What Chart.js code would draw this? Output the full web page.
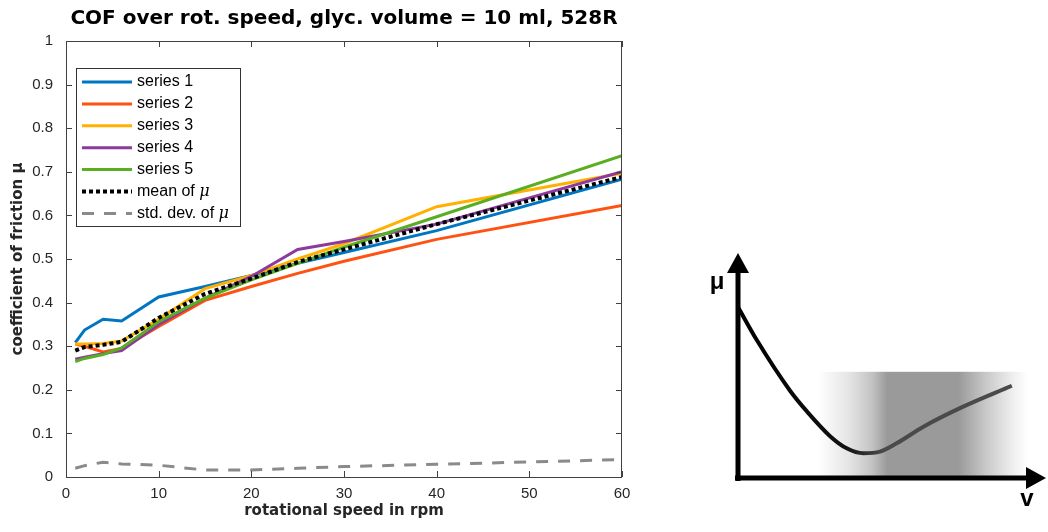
<!DOCTYPE html>
<html>
<head>
<meta charset="utf-8">
<script src="https://cdn.jsdelivr.net/npm/chart.js@4.4.0/dist/chart.umd.min.js"></script>
<style>
  html, body { margin: 0; padding: 0; background: #fff; }
  #left { position: absolute; left: 0; top: 0; width: 640px; height: 532px; }
  #right { position: absolute; left: 680px; top: 0; width: 368px; height: 532px; }
</style>
</head>
<body>
<div id="left"><canvas id="cof"></canvas></div>
<div id="right"><canvas id="stribeck"></canvas></div>
<script>
const speeds = [1, 2, 4, 6, 10, 15, 20, 25, 30, 40, 60];
const series1 = [0.308, 0.337, 0.362, 0.358, 0.413, 0.437, 0.462, 0.490, 0.515, 0.565, 0.683];
const series2 = [0.305, 0.300, 0.287, 0.295, 0.345, 0.405, 0.437, 0.467, 0.495, 0.545, 0.623];
const series3 = [0.305, 0.305, 0.306, 0.312, 0.362, 0.432, 0.462, 0.500, 0.535, 0.620, 0.697];
const series4 = [0.270, 0.275, 0.283, 0.290, 0.350, 0.410, 0.460, 0.522, 0.540, 0.580, 0.700];
const series5 = [0.265, 0.272, 0.281, 0.296, 0.356, 0.410, 0.452, 0.490, 0.527, 0.597, 0.737];
const meanMu = [0.290, 0.298, 0.303, 0.310, 0.365, 0.420, 0.455, 0.493, 0.522, 0.580, 0.688];
const stdMu = [0.020, 0.026, 0.034, 0.030, 0.027, 0.016, 0.016, 0.020, 0.024, 0.029, 0.040];

const seriesLabels = ['series 1', 'series 2', 'series 3', 'series 4', 'series 5', 'mean of μ', 'std. dev. of μ'];
const xTicks = [0, 10, 20, 30, 40, 50, 60];
const yTicks = [0, 0.1, 0.2, 0.3, 0.4, 0.5, 0.6, 0.7, 0.8, 0.9, 1];

// schematic Stribeck curve (arbitrary units)
const curveV = [0, 0.61, 1.69, 2.23, 2.99, 3.53, 4.07, 4.61, 5.15, 6.02, 7.31, 8.89];
const curveMu = [7.6, 6.13, 3.88, 2.97, 1.86, 1.32, 1.10, 1.17, 1.54, 2.28, 3.17, 4.10];

const FONT = "'Liberation Sans', Arial, Helvetica, sans-serif";
const BOLD_FONT = "'DejaVu Sans', 'Liberation Sans', Arial, sans-serif";
const AXIS_COLOR = '#404040';

function toPoints(ys) {
  return speeds.map((s, i) => ({ x: s, y: ys[i] }));
}

// box round the axes, ticks pointing inward (matlab style)
const boxPlugin = {
  id: 'box',
  afterDraw(chart) {
    const { ctx, chartArea: ca, scales } = chart;
    ctx.save();
    ctx.strokeStyle = AXIS_COLOR;
    ctx.lineWidth = 1;
    ctx.strokeRect(ca.left + 0.5, ca.top + 0.5, ca.right - ca.left - 1, ca.bottom - ca.top);
    ctx.beginPath();
    xTicks.forEach(t => {
      let x = Math.round(scales.x.getPixelForValue(t)) + 0.5;
      ctx.moveTo(x, ca.bottom); ctx.lineTo(x, ca.bottom - 6);
      ctx.moveTo(x, ca.top); ctx.lineTo(x, ca.top + 6);
    });
    yTicks.forEach(t => {
      let y = Math.round(scales.y.getPixelForValue(t)) + 0.5;
      ctx.moveTo(ca.left, y); ctx.lineTo(ca.left + 6, y);
      ctx.moveTo(ca.right, y); ctx.lineTo(ca.right - 6, y);
    });
    ctx.stroke();
    ctx.restore();
  }
};

// legend in a box, inside the upper left corner
const boxLegend = {
  id: 'boxLegend',
  afterDraw(chart) {
    const { ctx, chartArea: ca } = chart;
    const left = ca.left + 10, top = ca.top + 27;
    const w = 164, h = 158, rowH = 21.9;
    ctx.save();
    ctx.fillStyle = '#fff';
    ctx.fillRect(left, top, w, h);
    ctx.strokeStyle = '#333';
    ctx.lineWidth = 1;
    ctx.strokeRect(left + 0.5, top + 0.5, w, h);
    chart.data.datasets.forEach((ds, i) => {
      let y = top + 14 + i * rowH;
      ctx.beginPath();
      ctx.strokeStyle = ds.borderColor;
      ctx.lineWidth = ds.borderWidth;
      ctx.setLineDash(ds.borderDash || []);
      ctx.moveTo(left + 6, y);
      ctx.lineTo(left + 56, y);
      ctx.stroke();
      ctx.setLineDash([]);
      ctx.fillStyle = '#000';
      ctx.textBaseline = 'middle';
      let label = ds.label;
      if (label.endsWith('μ')) {
        let head = label.slice(0, -1);
        ctx.font = '16px ' + FONT;
        ctx.fillText(head, left + 61, y);
        let hw = ctx.measureText(head).width;
        ctx.font = 'italic 16px "DejaVu Serif", serif';
        ctx.fillText('μ', left + 61 + hw, y);
      } else {
        ctx.font = '16px ' + FONT;
        ctx.fillText(label, left + 61, y);
      }
    });
    ctx.restore();
  }
};

const colors = ['#0076C0', '#FF5212', '#FFB000', '#8E3A9C', '#5AAE22', '#000000', '#8a8a8a'];
const allSeries = [series1, series2, series3, series4, series5, meanMu, stdMu];

const datasets = allSeries.map((ys, i) => {
  let ds = {
    label: seriesLabels[i],
    data: toPoints(ys),
    borderColor: colors[i],
    borderWidth: 3,
    pointRadius: 0,
    tension: 0,
    fill: false,
    borderCapStyle: 'butt',
    order: 6 - i
  };
  if (i === 5) { ds.borderDash = [4, 3]; ds.borderWidth = 4; ds.order = 1; }
  if (i === 6) { ds.borderDash = [12, 10]; ds.order = 0; }
  return ds;
});

new Chart(document.getElementById('cof'), {
  type: 'line',
  data: { datasets: datasets },
  options: {
    responsive: true,
    maintainAspectRatio: false,
    animation: false,
    layout: { padding: { left: 0, right: 18, top: 0, bottom: 0 } },
    plugins: {
      legend: { display: false },
      tooltip: { enabled: false },
      title: {
        display: true,
        fullSize: false,
        text: 'COF over rot. speed, glyc. volume = 10 ml, 528R',
        color: '#000',
        font: { family: BOLD_FONT, size: 20, weight: 'bold' },
        padding: { top: 7, bottom: 10 }
      }
    },
    scales: {
      x: {
        type: 'linear',
        min: 0, max: 60,
        afterFit(scale) { scale.height = 55; },
        grid: { display: false, drawTicks: false },
        border: { display: false },
        ticks: {
          stepSize: 10,
          padding: 8,
          color: '#262626',
          font: { family: FONT, size: 15 },
          maxRotation: 0
        },
        title: {
          display: true,
          text: 'rotational speed in rpm',
          color: '#262626',
          font: { family: BOLD_FONT, size: 15, weight: 'bold' },
          padding: { top: 0, bottom: 12 }
        }
      },
      y: {
        min: 0, max: 1,
        afterFit(scale) { scale.width = 66; },
        grid: { display: false, drawTicks: false },
        border: { display: false },
        ticks: {
          stepSize: 0.1,
          padding: 13,
          color: '#262626',
          font: { family: FONT, size: 15 },
          callback: v => String(+v.toFixed(1))
        },
        title: {
          display: true,
          text: 'coefficient of friction μ',
          color: '#262626',
          font: { family: BOLD_FONT, size: 15, weight: 'bold' },
          padding: { top: 9, bottom: 0 }
        }
      }
    }
  },
  plugins: [boxPlugin, boxLegend]
});

// ---- right hand schematic ----
const band = { from: 2.6, to: 9.4, top: 4.72 };

const stribeckDeco = {
  id: 'stribeckDeco',
  beforeDatasetsDraw(chart) {
    const { ctx, scales } = chart;
    const x1 = scales.x.getPixelForValue(band.from);
    const x2 = scales.x.getPixelForValue(band.to);
    const yTop = scales.y.getPixelForValue(band.top);
    const yBot = scales.y.getPixelForValue(0);
    const g = ctx.createLinearGradient(x1, 0, x2, 0);
    g.addColorStop(0, 'rgba(255,255,255,1)');
    g.addColorStop(0.15, '#e4e4e4');
    g.addColorStop(0.26, '#c2c2c2');
    g.addColorStop(0.33, '#9a9a9a');
    g.addColorStop(0.67, '#9a9a9a');
    g.addColorStop(0.8, '#c8c8c8');
    g.addColorStop(0.92, '#ececec');
    g.addColorStop(1, '#ffffff');
    ctx.save();
    ctx.fillStyle = g;
    ctx.fillRect(x1, yTop, x2 - x1, yBot - yTop);
    ctx.restore();
  },
  afterDatasetsDraw(chart) {
    const { ctx, scales } = chart;
    const x0 = scales.x.getPixelForValue(0);
    const y0 = scales.y.getPixelForValue(0);
    const yTip = scales.y.getPixelForValue(10);
    const xTip = scales.x.getPixelForValue(10);
    ctx.save();
    ctx.strokeStyle = '#000';
    ctx.fillStyle = '#000';
    ctx.lineWidth = 5;
    ctx.beginPath();
    ctx.moveTo(x0, y0 + 3);
    ctx.lineTo(x0, yTip + 14);
    ctx.moveTo(x0 - 3, y0);
    ctx.lineTo(xTip - 14, y0);
    ctx.stroke();
    // arrow heads
    ctx.beginPath();
    ctx.moveTo(x0, yTip);
    ctx.lineTo(x0 + 11, yTip + 20);
    ctx.lineTo(x0 - 11, yTip + 20);
    ctx.closePath();
    ctx.moveTo(xTip, y0);
    ctx.lineTo(xTip - 20, y0 - 11);
    ctx.lineTo(xTip - 20, y0 + 11);
    ctx.closePath();
    ctx.fill();
    ctx.font = 'bold 24px ' + FONT;
    ctx.textAlign = 'center';
    ctx.textBaseline = 'middle';
    ctx.fillText('μ', x0 - 21, yTip + 29);
    ctx.fillText('v', xTip - 19, y0 + 21);
    ctx.restore();
  }
};

new Chart(document.getElementById('stribeck'), {
  type: 'line',
  data: {
    datasets: [{
      data: curveV.map((v, i) => ({ x: v, y: curveMu[i] })),
      borderColor(context) {
        const chart = context.chart;
        const ca = chart.chartArea;
        if (!ca) return '#000';
        const g = chart.ctx.createLinearGradient(ca.left, 0, ca.right, 0);
        g.addColorStop(0, '#000');
        g.addColorStop(0.35, '#111');
        g.addColorStop(0.47, '#4a4a4a');
        g.addColorStop(1, '#4a4a4a');
        return g;
      },
      borderWidth: 4,
      pointRadius: 0,
      cubicInterpolationMode: 'monotone',
      fill: false,
      clip: false
    }]
  },
  options: {
    responsive: true,
    maintainAspectRatio: false,
    animation: false,
    layout: { padding: { left: 58, right: 2, top: 253, bottom: 54 } },
    plugins: { legend: { display: false }, tooltip: { enabled: false } },
    scales: {
      x: { type: 'linear', min: 0, max: 10, display: false },
      y: { min: 0, max: 10, display: false }
    }
  },
  plugins: [stribeckDeco]
});
</script>
</body>
</html>
